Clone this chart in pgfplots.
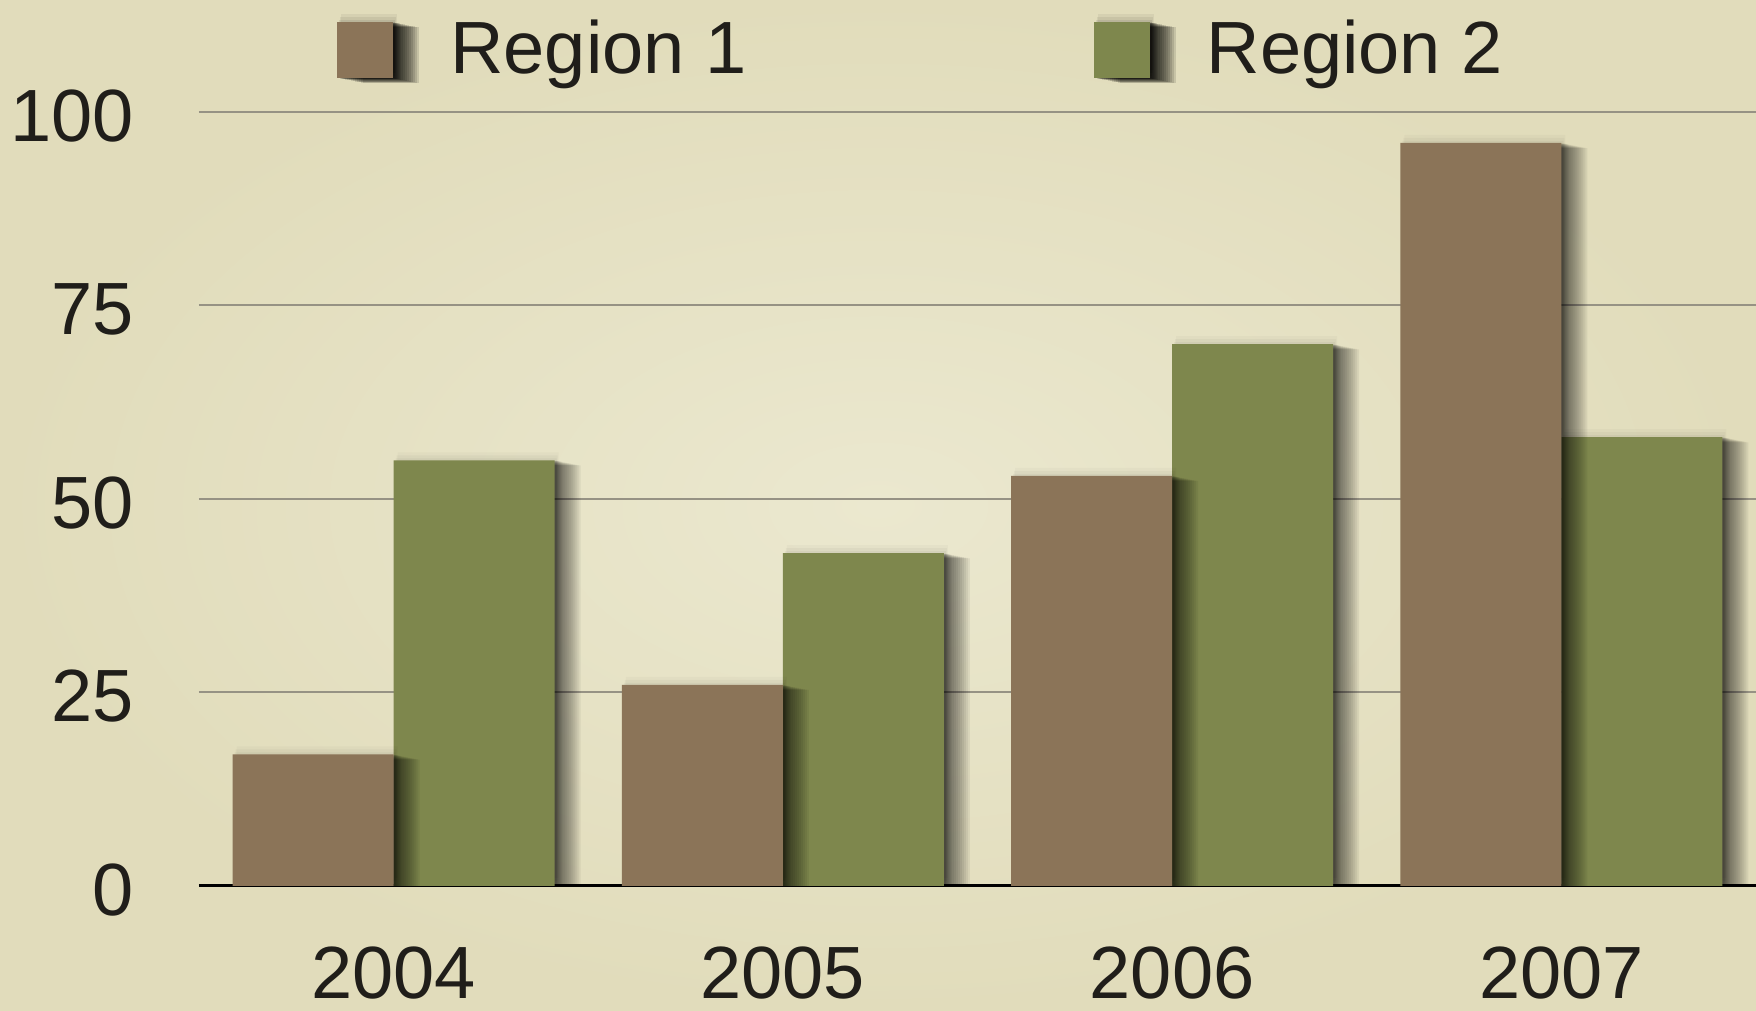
\documentclass[border=0pt]{standalone}
\usepackage{pgfplots}
\pgfplotsset{compat=1.18}
\usepackage{fontspec}
\setmainfont{Liberation Sans}
\definecolor{bgc}{RGB}{235,232,207}
\definecolor{bgo}{RGB}{225,220,187}
\definecolor{rone}{RGB}{139,116,88}
\definecolor{rtwo}{RGB}{126,135,77}
\definecolor{gridc}{RGB}{150,146,132}
\definecolor{txt}{RGB}{32,30,26}
\tikzset{
 sl/.style 2 args={preaction={fill=black,opacity=0.06,transform canvas={xshift=#1,yshift=#2}}},
 bshadow/.style={
  preaction={fill=black,opacity=0.025,transform canvas={xshift=2pt,yshift=4pt}},
  preaction={fill=black,opacity=0.03,transform canvas={xshift=1.5pt,yshift=2.5pt}},
  preaction={fill=black,opacity=0.035,transform canvas={xshift=1pt,yshift=1pt}},
  sl={13pt}{-2.6pt}, sl={12pt}{-2.4pt}, sl={11pt}{-2.2pt}, sl={10pt}{-2pt}, sl={9pt}{-1.8pt},
  sl={8pt}{-1.6pt}, sl={7pt}{-1.4pt}, sl={6pt}{-1.2pt}, sl={5pt}{-1pt}, sl={4pt}{-0.8pt},
  sl={3.5pt}{-0.7pt}, sl={3pt}{-0.6pt}, sl={2.5pt}{-0.5pt}, sl={2pt}{-0.4pt}, sl={1.5pt}{-0.3pt}, sl={1pt}{-0.2pt}
 }
}
\begin{document}
\begin{tikzpicture}
\shade[inner color=bgc, outer color=bgo] (-99.5pt,-62.5pt) rectangle (778.5pt,443pt);
\begin{axis}[
  at={(0pt,0pt)}, anchor=south west,
  scale only axis, width=778.5pt, height=387pt,
  xmin=-0.5, xmax=3.5, ymin=0, ymax=100,
  xtick={0,1,2,3}, xticklabels={2004,2005,2006,2007},
  ytick={0,25,50,75,100},
  ymajorgrids, grid style={gridc, line width=1pt},
  axis x line*=bottom, axis y line*=left,
  x axis line style={black, line width=1.5pt},
  y axis line style={draw=none},
  major tick length=0pt, tick style={draw=none},
  ticklabel style={font=\fontsize{37}{40}\selectfont, text=txt, inner sep=0pt},
  /pgf/number format/assume math mode=true,
  yticklabel style={xshift=-32.5pt, yshift=-2pt},
  xticklabel style={yshift=-30pt},
  legend columns=2, reverse legend,
  legend style={draw=none, fill=none, at={(0,1)}, anchor=west, xshift=69pt, yshift=32pt, inner sep=0pt,
    font=\fontsize{37}{40}\selectfont, text=txt, column sep=26.5pt,
    /tikz/every even column/.append style={column sep=171.5pt}, cells={anchor=center}},
]
\addplot[ybar, bar width=80.5pt, bar shift=40.25pt, fill=rtwo, draw=none, bshadow,
  legend image code/.code={\fill[rtwo, bshadow] (0pt,-15pt) rectangle (28pt,13pt);}]
  coordinates {(0,55) (1,43) (2,70) (3,58)};
\addlegendentry{Region 2}
\addplot[ybar, bar width=80.5pt, bar shift=-40.25pt, fill=rone, draw=none, bshadow,
  legend image code/.code={\fill[rone, bshadow] (0pt,-15pt) rectangle (28pt,13pt);}]
  coordinates {(0,17) (1,26) (2,53) (3,96)};
\addlegendentry{Region 1}
\end{axis}
\pgfresetboundingbox
\path[use as bounding box] (-99.5pt,-62.5pt) rectangle (778.5pt,443pt);
\end{tikzpicture}
\end{document}
